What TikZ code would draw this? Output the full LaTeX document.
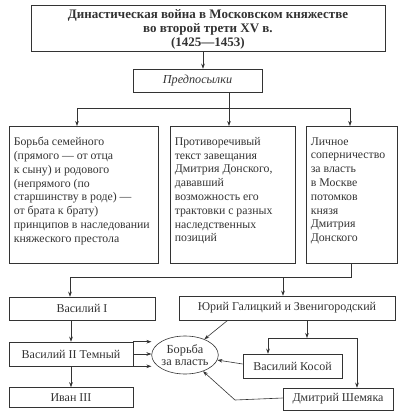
\documentclass[tikz,border=0pt]{standalone}
\usepackage{fontspec}
\setmainfont{Liberation Serif}
\usetikzlibrary{arrows.meta,shapes.geometric}
\definecolor{ink}{gray}{0.2}
\begin{document}
\begin{tikzpicture}[x=1pt,y=-1pt,
  every node/.style={text=ink},
  box/.style={draw=ink, line width=0.6pt, inner sep=0pt, align=center, font=\fontsize{12}{13}\selectfont},
  tbox/.style={draw=ink, line width=0.6pt, anchor=north west, inner xsep=4.5pt, inner ysep=11pt, font=\fontsize{11.8}{13.8}\selectfont},
  ln/.style={draw=ink, line width=0.6pt},
  arr/.style={ln, -{Stealth[length=5pt,width=3.6pt]}}]
\useasboundingbox (0,0) rectangle (404,416);

\node[draw=ink, line width=0.6pt, minimum width=354pt, minimum height=46pt] (top) at (208,28) {};
\node[align=center, inner sep=0pt, font=\bfseries\fontsize{13}{14.2}\selectfont] (toptext) at (208,29.5)
  {Династическая война в Московском княжестве\\во второй трети XV в.\\(1425—1453)};
\node[box, minimum width=129pt, minimum height=23pt, font=\itshape\fontsize{12.2}{13}\selectfont] (pre) at (197.5,80.5) {Предпосылки};

\node[tbox, minimum width=149pt, minimum height=137pt] (b1) at (9,126)
  {\parbox[t][115pt][t]{140pt}{\raggedright Борьба семейного\\(прямого — от отца\\к сыну) и родового\\(непрямого (по\\старшинству в роде) —\\от брата к брату)\\принципов в наследовании\\княжеского престола}};
\node[tbox, minimum width=125pt, minimum height=137pt] (b2) at (170,126)
  {\parbox[t][115pt][t]{116pt}{\raggedright Противоречивый\\текст завещания\\Дмитрия Донского,\\дававший\\возможность его\\трактовки с разных\\наследственных\\позиций}};
\node[tbox, minimum width=91pt, minimum height=137pt] (b3) at (306,126)
  {\parbox[t][115pt][t]{82pt}{\raggedright Личное\\соперничество\\за власть\\в Москве\\потомков\\князя\\Дмитрия\\Донского}};

\node[box, minimum width=146pt, minimum height=23pt] (v1) at (82,308.5) {Василий I};
\node[box, minimum width=216pt, minimum height=24pt] (yuri) at (287,308) {Юрий Галицкий и Звенигородский};
\node[box, minimum width=124pt, minimum height=24pt] (v2) at (71,354) {Василий II Темный};
\node[box, minimum width=124pt, minimum height=20pt] (ivan) at (71,397.5) {Иван III};
\node[box, minimum width=99pt, minimum height=24pt] (kosoy) at (292.5,366) {Василий Косой};
\node[box, minimum width=110pt, minimum height=22pt] (shem) at (338,399) {Дмитрий Шемяка};
\node[ellipse, draw=ink, line width=0.6pt, minimum width=56pt, minimum height=38pt, inner sep=0pt, align=center,
  font=\fontsize{12.3}{12.5}\selectfont] (ell) at (185,355) {Борьба\\за власть};

% top -> pre
\draw[arr] ([xshift=-5pt]top.south) -- ([xshift=-5pt]top.south |- pre.north);
% pre -> three boxes
\coordinate (h1) at (77,108);
\coordinate (h2) at (229,108);
\coordinate (h3) at (350,108);
\draw[ln] (h2 |- pre.south) -- (h2);
\draw[ln] (h1) -- (h3);
\draw[arr] (h1) -- (h1 |- b1.north);
\draw[arr] (h2) -- (h2 |- b2.north);
\draw[arr] (h3) -- (h3 |- b3.north);
% b3 -> lower
\coordinate (k1) at (351,277);
\coordinate (k0) at (70,277);
\coordinate (k2) at (283,277);
\draw[ln] (k1 |- b3.south) -- (k1) -- (k0);
\draw[arr] (k0) -- (k0 |- v1.north);
\draw[arr] (k2) -- (k2 |- yuri.north);
% left column
\draw[arr] (v1.south -| v2.north) -- (v2.north);
\draw[arr] (v2.south) -- (ivan.north);
\draw[arr] (v2.north east) -- (v2.north east -| ell.west);
\draw[arr] (v2.east) -- (v2.east -| ell.west);
\draw[arr] (v2.south east) -- (v2.south east -| ell.west);
% yuri
\draw[arr] ([xshift=49pt]yuri.south west) -- (ell);
\coordinate (s0) at (307,338);
\coordinate (sL) at (268,338);
\coordinate (sR) at (357,338);
\draw[arr] (s0 |- yuri.south) -- (s0);
\draw[ln] (sL) -- (sR);
\draw[arr] (sL) -- (sL |- kosoy.north);
\draw[arr] (sR) -- (sR |- shem.north);
% to ellipse
\draw[arr] ([yshift=2pt]kosoy.west) -- (ell);
\coordinate (sb) at (235,400);
\draw[arr] ([yshift=1pt]shem.west) -- (sb) -- (ell);
\end{tikzpicture}
\end{document}
